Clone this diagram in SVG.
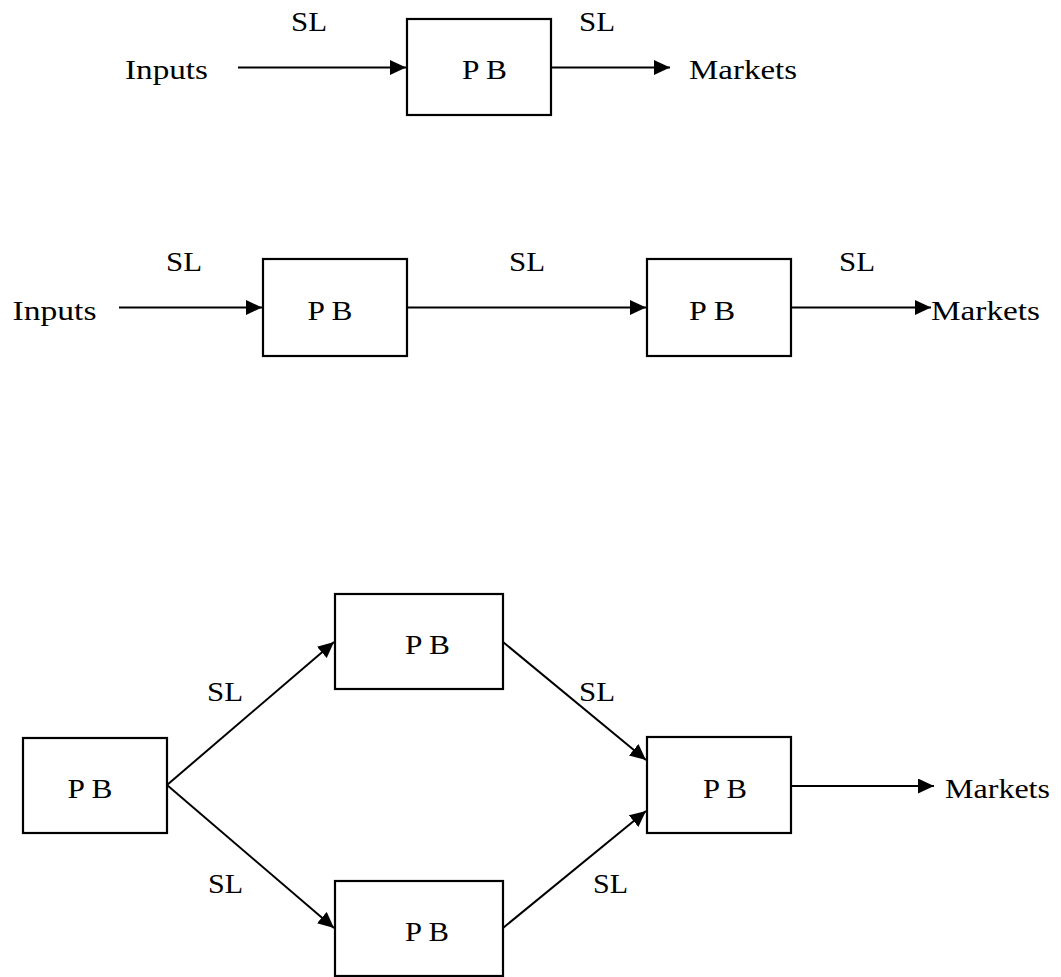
<svg xmlns="http://www.w3.org/2000/svg" width="1061" height="977" viewBox="0 0 1061 977">
<style>
.box{fill:#fff;stroke:#000;stroke-width:2.2}
.ln{stroke:#000;stroke-width:2;fill:none;marker-end:url(#ah)}
text{font-family:"Liberation Serif","Times New Roman",serif;font-size:28px;fill:#000}
</style>
<defs>
<marker id="ah" markerUnits="userSpaceOnUse" markerWidth="17" markerHeight="16" refX="16" refY="7.5" orient="auto" viewBox="0 0 17 16">
<path d="M0,0 L16,7.5 L0,15 z" fill="#000"/>
</marker>
</defs>
<rect width="1061" height="977" fill="#fff"/>
<g id="connectors">
<line class="ln" x1="238" y1="67.5" x2="406" y2="67.5"/>
<line class="ln" x1="551" y1="67.5" x2="670" y2="67.5"/>
<line class="ln" x1="119" y1="307.5" x2="262" y2="307.5"/>
<line class="ln" x1="407" y1="307.5" x2="646" y2="307.5"/>
<line class="ln" x1="791" y1="307.5" x2="931" y2="307.5"/>
<line class="ln" x1="167" y1="785" x2="334" y2="642"/>
<line class="ln" x1="167" y1="785" x2="334" y2="928"/>
<line class="ln" x1="503" y1="642" x2="646" y2="760"/>
<line class="ln" x1="503" y1="928" x2="646" y2="811"/>
<line class="ln" x1="791" y1="786" x2="934" y2="786"/>
</g>
<g id="labels">
<text x="291" y="31" textLength="36" lengthAdjust="spacingAndGlyphs">SL</text>
<text x="579" y="31" textLength="36" lengthAdjust="spacingAndGlyphs">SL</text>
<text x="125" y="79" textLength="83" lengthAdjust="spacingAndGlyphs">Inputs</text>
<text x="689" y="79" textLength="108" lengthAdjust="spacingAndGlyphs">Markets</text>
<text x="166" y="271" textLength="36" lengthAdjust="spacingAndGlyphs">SL</text>
<text x="509" y="271" textLength="36" lengthAdjust="spacingAndGlyphs">SL</text>
<text x="839" y="271" textLength="36" lengthAdjust="spacingAndGlyphs">SL</text>
<text x="12.5" y="320" textLength="84" lengthAdjust="spacingAndGlyphs">Inputs</text>
<text x="931" y="320" textLength="109" lengthAdjust="spacingAndGlyphs">Markets</text>
<text x="207" y="701" textLength="36" lengthAdjust="spacingAndGlyphs">SL</text>
<text x="579" y="701" textLength="36" lengthAdjust="spacingAndGlyphs">SL</text>
<text x="208" y="893" textLength="35" lengthAdjust="spacingAndGlyphs">SL</text>
<text x="593" y="893" textLength="35" lengthAdjust="spacingAndGlyphs">SL</text>
<text x="945" y="798" textLength="105" lengthAdjust="spacingAndGlyphs">Markets</text>
</g>
<g id="pb1"><rect class="box" x="407" y="19" width="144" height="96"/><text x="462" y="79" textLength="45" lengthAdjust="spacingAndGlyphs">P B</text></g>
<g id="pb2"><rect class="box" x="263" y="259" width="144" height="97"/><text x="307.5" y="320" textLength="45" lengthAdjust="spacingAndGlyphs">P B</text></g>
<g id="pb3"><rect class="box" x="647" y="259" width="144" height="97"/><text x="689" y="320" textLength="46" lengthAdjust="spacingAndGlyphs">P B</text></g>
<g id="pb4"><rect class="box" x="23" y="738" width="144" height="95"/><text x="67.5" y="798" textLength="45" lengthAdjust="spacingAndGlyphs">P B</text></g>
<g id="pb5"><rect class="box" x="335" y="594" width="168" height="95"/><text x="405" y="653.5" textLength="45" lengthAdjust="spacingAndGlyphs">P B</text></g>
<g id="pb6"><rect class="box" x="647" y="737" width="144" height="96"/><text x="703" y="798" textLength="44" lengthAdjust="spacingAndGlyphs">P B</text></g>
<g id="pb7"><rect class="box" x="335" y="881" width="168" height="95"/><text x="405" y="941" textLength="44" lengthAdjust="spacingAndGlyphs">P B</text></g>
</svg>
